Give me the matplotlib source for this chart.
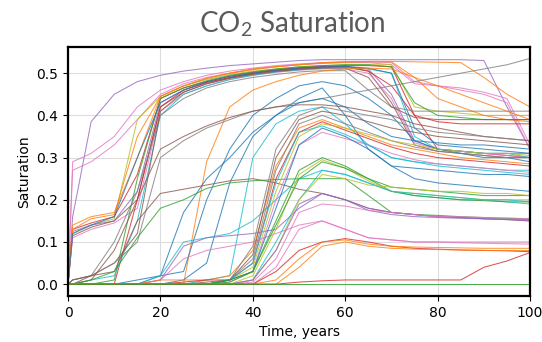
# CO2 saturation curves for the simulation ensemble

import matplotlib.pyplot as plt

plt.rcParams['mathtext.fontset'] = 'custom'
plt.rcParams['mathtext.rm'] = 'Lato'

# Time samples (years)
time = [0, 1, 5, 10, 15, 20, 25, 30, 35, 40, 45, 50, 55, 60, 65, 70, 75, 80, 85, 90, 95, 100]

# early injection runs, high plateau
a01 = [0, 0.16, 0.385, 0.45, 0.48, 0.495, 0.505, 0.512, 0.518, 0.522, 0.526, 0.53, 0.532, 0.532, 0.532, 0.532, 0.532, 0.532, 0.532, 0.53, 0.42, 0.32]
a02 = [0, 0.29, 0.31, 0.35, 0.42, 0.46, 0.48, 0.495, 0.505, 0.512, 0.518, 0.522, 0.525, 0.527, 0.527, 0.525, 0.48, 0.47, 0.465, 0.455, 0.44, 0.33]
a03 = [0, 0.27, 0.29, 0.33, 0.39, 0.45, 0.475, 0.49, 0.50, 0.51, 0.515, 0.52, 0.523, 0.525, 0.525, 0.52, 0.475, 0.47, 0.46, 0.45, 0.43, 0.32]
a04 = [0, 0.12, 0.14, 0.155, 0.39, 0.445, 0.47, 0.485, 0.497, 0.505, 0.51, 0.515, 0.518, 0.52, 0.52, 0.52, 0.42, 0.41, 0.405, 0.40, 0.40, 0.40]
a05 = [0, 0.13, 0.145, 0.16, 0.26, 0.44, 0.465, 0.48, 0.493, 0.502, 0.508, 0.513, 0.516, 0.518, 0.518, 0.515, 0.40, 0.32, 0.315, 0.31, 0.305, 0.30]
a06 = [0, 0.125, 0.14, 0.15, 0.22, 0.43, 0.46, 0.478, 0.49, 0.50, 0.506, 0.51, 0.514, 0.516, 0.51, 0.45, 0.34, 0.32, 0.315, 0.31, 0.31, 0.31]
a07 = [0, 0.115, 0.135, 0.15, 0.20, 0.42, 0.455, 0.475, 0.488, 0.498, 0.505, 0.51, 0.513, 0.514, 0.505, 0.43, 0.33, 0.315, 0.31, 0.305, 0.30, 0.30]
a08 = [0, 0.11, 0.13, 0.145, 0.18, 0.41, 0.45, 0.47, 0.485, 0.495, 0.502, 0.507, 0.51, 0.51, 0.50, 0.44, 0.335, 0.32, 0.315, 0.31, 0.305, 0.30]
a09 = [0, 0, 0, 0.01, 0.25, 0.44, 0.465, 0.482, 0.495, 0.503, 0.51, 0.515, 0.518, 0.52, 0.52, 0.515, 0.43, 0.40, 0.395, 0.39, 0.39, 0.39]
a10 = [0, 0, 0, 0, 0.20, 0.42, 0.46, 0.478, 0.49, 0.50, 0.507, 0.512, 0.515, 0.517, 0.505, 0.47, 0.40, 0.385, 0.38, 0.38, 0.38, 0.38]
a11 = [0, 0, 0.01, 0.02, 0.15, 0.40, 0.45, 0.47, 0.485, 0.495, 0.503, 0.508, 0.512, 0.514, 0.51, 0.50, 0.35, 0.32, 0.315, 0.31, 0.31, 0.30]
a12 = [0, 0.14, 0.16, 0.17, 0.30, 0.445, 0.47, 0.488, 0.50, 0.51, 0.516, 0.52, 0.525, 0.527, 0.528, 0.528, 0.527, 0.526, 0.525, 0.49, 0.45, 0.42]
a13 = [0, 0.13, 0.155, 0.165, 0.35, 0.445, 0.47, 0.487, 0.50, 0.508, 0.515, 0.52, 0.524, 0.526, 0.527, 0.527, 0.49, 0.44, 0.42, 0.40, 0.39, 0.385]
a14 = [0, 0.12, 0.14, 0.16, 0.30, 0.43, 0.46, 0.48, 0.492, 0.50, 0.507, 0.512, 0.515, 0.516, 0.512, 0.50, 0.37, 0.33, 0.325, 0.32, 0.315, 0.31]
a15 = [0, 0.01, 0.02, 0.10, 0.22, 0.40, 0.44, 0.465, 0.48, 0.49, 0.497, 0.503, 0.506, 0.506, 0.46, 0.42, 0.41, 0.41, 0.41, 0.41, 0.41, 0.41]
a16 = [0, 0, 0.02, 0.05, 0.12, 0.41, 0.455, 0.475, 0.488, 0.497, 0.504, 0.509, 0.512, 0.512, 0.49, 0.42, 0.395, 0.39, 0.39, 0.39, 0.39, 0.39]

# intermediate arrival
b01 = [0, 0, 0, 0, 0, 0, 0, 0.29, 0.42, 0.46, 0.48, 0.495, 0.505, 0.51, 0.512, 0.51, 0.49, 0.47, 0.45, 0.43, 0.41, 0.39]
b02 = [0, 0, 0, 0, 0.01, 0.02, 0.03, 0.20, 0.32, 0.40, 0.44, 0.47, 0.48, 0.47, 0.44, 0.40, 0.34, 0.32, 0.31, 0.30, 0.30, 0.29]
b03 = [0, 0, 0, 0, 0, 0, 0.01, 0.05, 0.24, 0.35, 0.40, 0.44, 0.465, 0.40, 0.32, 0.28, 0.275, 0.27, 0.265, 0.26, 0.26, 0.255]
b04 = [0, 0.01, 0.02, 0.05, 0.10, 0.30, 0.34, 0.37, 0.39, 0.41, 0.42, 0.43, 0.44, 0.45, 0.46, 0.47, 0.48, 0.49, 0.50, 0.51, 0.52, 0.535]
b05 = [0, 0, 0.01, 0.08, 0.20, 0.32, 0.35, 0.375, 0.395, 0.41, 0.42, 0.425, 0.425, 0.42, 0.41, 0.40, 0.38, 0.37, 0.36, 0.35, 0.345, 0.34]
b06 = [0, 0, 0, 0, 0, 0.02, 0.17, 0.25, 0.30, 0.36, 0.40, 0.43, 0.44, 0.42, 0.38, 0.35, 0.34, 0.335, 0.33, 0.33, 0.325, 0.32]
b07 = [0, 0, 0, 0, 0, 0, 0, 0.01, 0.02, 0.30, 0.38, 0.41, 0.42, 0.38, 0.33, 0.30, 0.29, 0.285, 0.28, 0.275, 0.27, 0.27]

# slow early build-up
c01 = [0, 0.01, 0.02, 0.03, 0.15, 0.215, 0.225, 0.235, 0.245, 0.25, 0.24, 0.225, 0.215, 0.20, 0.18, 0.17, 0.165, 0.16, 0.158, 0.155, 0.153, 0.15]
c02 = [0, 0, 0.01, 0.03, 0.11, 0.18, 0.20, 0.227, 0.24, 0.245, 0.248, 0.25, 0.25, 0.25, 0.21, 0.17, 0.165, 0.163, 0.16, 0.158, 0.156, 0.155]
c03 = [0, 0, 0, 0, 0, 0.02, 0.10, 0.11, 0.12, 0.15, 0.20, 0.25, 0.27, 0.26, 0.24, 0.22, 0.21, 0.205, 0.20, 0.20, 0.195, 0.19]
c04 = [0, 0, 0, 0, 0, 0.01, 0.06, 0.08, 0.09, 0.10, 0.12, 0.14, 0.15, 0.13, 0.11, 0.105, 0.10, 0.10, 0.10, 0.10, 0.10, 0.10]
c05 = [0, 0, 0, 0, 0, 0.01, 0.09, 0.11, 0.115, 0.12, 0.13, 0.18, 0.215, 0.20, 0.18, 0.17, 0.165, 0.16, 0.158, 0.155, 0.153, 0.15]

# late arrival, peak near 0.4
d01 = [0, 0, 0, 0, 0, 0.01, 0.01, 0.01, 0.02, 0.08, 0.28, 0.37, 0.39, 0.37, 0.35, 0.33, 0.32, 0.31, 0.30, 0.295, 0.29, 0.285]
d02 = [0, 0, 0, 0, 0, 0, 0.005, 0.01, 0.01, 0.05, 0.25, 0.36, 0.385, 0.365, 0.345, 0.325, 0.31, 0.30, 0.295, 0.29, 0.285, 0.28]
d03 = [0, 0, 0, 0, 0, 0, 0, 0, 0.01, 0.06, 0.27, 0.38, 0.40, 0.38, 0.36, 0.34, 0.325, 0.315, 0.31, 0.305, 0.30, 0.30]
d04 = [0, 0, 0, 0, 0, 0, 0, 0, 0.01, 0.04, 0.22, 0.35, 0.38, 0.37, 0.355, 0.34, 0.33, 0.32, 0.315, 0.31, 0.31, 0.305]
d05 = [0, 0, 0, 0, 0, 0, 0, 0.005, 0.01, 0.07, 0.30, 0.39, 0.41, 0.40, 0.385, 0.37, 0.36, 0.35, 0.345, 0.34, 0.335, 0.33]
d06 = [0, 0, 0, 0, 0, 0, 0, 0, 0.005, 0.03, 0.20, 0.33, 0.36, 0.345, 0.33, 0.31, 0.295, 0.285, 0.28, 0.275, 0.27, 0.265]
d07 = [0, 0, 0, 0, 0, 0, 0, 0, 0.01, 0.05, 0.24, 0.36, 0.375, 0.355, 0.33, 0.30, 0.29, 0.28, 0.275, 0.27, 0.265, 0.26]
d08 = [0, 0, 0, 0, 0, 0, 0, 0, 0.01, 0.09, 0.32, 0.40, 0.42, 0.41, 0.40, 0.39, 0.37, 0.36, 0.355, 0.35, 0.345, 0.34]
d09 = [0, 0, 0, 0, 0, 0, 0, 0, 0.01, 0.03, 0.18, 0.33, 0.37, 0.35, 0.32, 0.28, 0.25, 0.24, 0.235, 0.23, 0.225, 0.22]

# late arrival, peak near 0.3
e01 = [0, 0, 0, 0, 0, 0, 0, 0, 0.005, 0.03, 0.15, 0.27, 0.30, 0.28, 0.25, 0.22, 0.21, 0.205, 0.20, 0.198, 0.195, 0.195]
e02 = [0, 0, 0, 0, 0, 0, 0, 0, 0, 0.02, 0.13, 0.26, 0.295, 0.275, 0.245, 0.22, 0.215, 0.21, 0.205, 0.20, 0.20, 0.20]
e03 = [0, 0, 0, 0, 0, 0, 0, 0, 0.01, 0.03, 0.14, 0.25, 0.29, 0.275, 0.25, 0.23, 0.225, 0.22, 0.215, 0.21, 0.21, 0.21]
e04 = [0, 0, 0, 0, 0, 0, 0, 0, 0, 0.01, 0.10, 0.20, 0.27, 0.26, 0.24, 0.22, 0.215, 0.21, 0.205, 0.20, 0.20, 0.195]
e05 = [0, 0, 0, 0, 0, 0, 0, 0, 0, 0.01, 0.08, 0.20, 0.26, 0.25, 0.235, 0.23, 0.225, 0.22, 0.22, 0.215, 0.215, 0.21]

# late arrival, peak near 0.2
f01 = [0, 0, 0, 0, 0, 0, 0, 0, 0, 0.01, 0.08, 0.19, 0.215, 0.20, 0.175, 0.165, 0.16, 0.158, 0.156, 0.155, 0.154, 0.153]
f02 = [0, 0, 0, 0, 0, 0, 0, 0, 0, 0.005, 0.06, 0.17, 0.19, 0.185, 0.175, 0.17, 0.165, 0.16, 0.16, 0.158, 0.157, 0.155]
f03 = [0, 0, 0, 0, 0, 0, 0, 0, 0, 0, 0.04, 0.13, 0.15, 0.13, 0.11, 0.105, 0.10, 0.10, 0.098, 0.097, 0.096, 0.095]

# barely reached
g01 = [0, 0, 0, 0, 0, 0, 0, 0, 0, 0, 0.03, 0.08, 0.10, 0.108, 0.10, 0.09, 0.085, 0.083, 0.081, 0.08, 0.079, 0.077]
g02 = [0, 0, 0, 0, 0, 0, 0, 0, 0, 0, 0.01, 0.06, 0.10, 0.105, 0.095, 0.09, 0.088, 0.087, 0.086, 0.085, 0.085, 0.085]
g03 = [0, 0, 0, 0, 0, 0, 0, 0, 0, 0, 0, 0.04, 0.09, 0.10, 0.09, 0.085, 0.083, 0.082, 0.081, 0.08, 0.08, 0.08]
g04 = [0, 0, 0, 0, 0, 0, 0, 0, 0, 0, 0, 0.005, 0.008, 0.01, 0.01, 0.01, 0.01, 0.01, 0.01, 0.04, 0.055, 0.075]
g05 = [0, 0, 0, 0, 0, 0, 0, 0, 0, 0, 0, 0, 0, 0, 0, 0, 0, 0, 0, 0, 0, 0]

runs = [a01, a02, a03, a04, a05, a06, a07, a08, a09, a10, a11, a12, a13, a14, a15, a16,
        b01, b02, b03, b04, b05, b06, b07,
        c01, c02, c03, c04, c05,
        d01, d02, d03, d04, d05, d06, d07, d08, d09,
        e01, e02, e03, e04, e05,
        f01, f02, f03,
        g01, g02, g03, g04, g05]

# one colour per run, same order as above
run_colors = ['tab:purple', 'tab:pink', 'tab:pink', 'tab:olive', 'tab:red', 'tab:purple', 'tab:brown', 'tab:pink',
              'tab:green', 'tab:red', 'tab:cyan', 'tab:orange', 'tab:orange', 'tab:blue', 'tab:gray', 'tab:brown',
              'tab:orange', 'tab:blue', 'tab:blue', 'tab:gray', 'tab:brown', 'tab:blue', 'tab:cyan',
              'tab:brown', 'tab:green', 'tab:cyan', 'tab:pink', 'tab:purple',
              'tab:orange', 'tab:red', 'tab:gray', 'tab:olive', 'tab:brown', 'tab:pink', 'tab:cyan', 'tab:gray', 'tab:blue',
              'tab:green', 'tab:olive', 'tab:green', 'tab:cyan', 'tab:olive',
              'tab:purple', 'tab:pink', 'tab:pink',
              'tab:red', 'tab:orange', 'tab:orange', 'tab:red', 'tab:green']

fig = plt.figure(figsize=(5.42, 3.42), dpi=100)
ax = fig.add_axes([0.1255, 0.1345, 0.8525, 0.728])

for run, c in zip(runs, run_colors):
    ax.plot(time, run, color=c, linewidth=0.75, alpha=0.8)

ax.set_xlim(0, 100)
ax.set_ylim(-0.028, 0.562)
ax.set_xticks([0, 20, 40, 60, 80, 100])
ax.set_yticks([0.0, 0.1, 0.2, 0.3, 0.4, 0.5])
ax.grid(True, color='#dddddd', linewidth=0.8)
ax.set_axisbelow(True)
for spine in ax.spines.values():
    spine.set_linewidth(1.6)
    spine.set_color('black')

ax.set_xlabel('Time, years', fontsize=10)
ax.set_ylabel('Saturation', fontsize=10)
fig.text(0.539, 0.906, 'CO$_2$ Saturation', ha='center', va='baseline',
         fontsize=20, color='#5a5a5a', fontfamily='Lato')

fig.savefig('out.png', dpi=100)
